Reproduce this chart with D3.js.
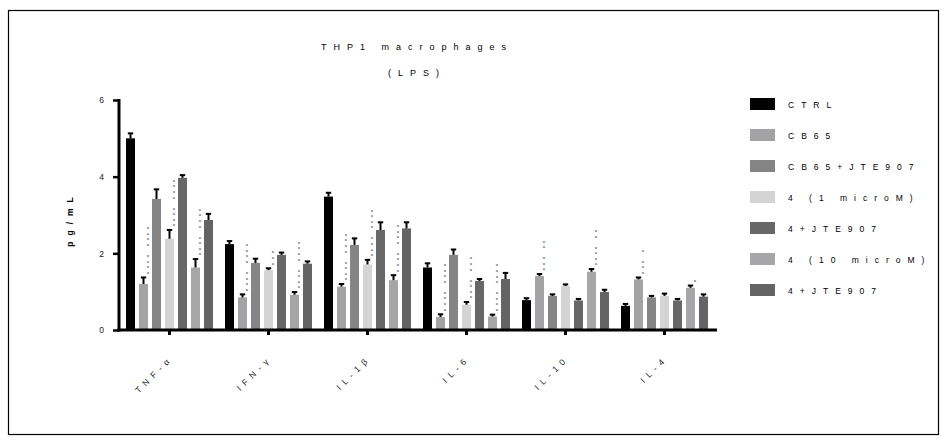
<!DOCTYPE html>
<html>
<head>
<meta charset="utf-8">
<script src="https://cdn.jsdelivr.net/npm/d3@7"></script>
<style>
  body { margin: 0; background: #fff; }
  text { font-family: "Liberation Sans", Arial, sans-serif; }
</style>
</head>
<body>
<div id="chart-area"></div>
<script>
// cytokines on the x axis
var groups = ["TNF-α", "IFN-γ", "IL-1β", "IL-6", "IL-10", "IL-4"];

// treatments (legend order)
var series = ["CTRL", "CB65", "CB65+JTE907", "4 (1 microM)", "4+JTE907", "4 (10 microM)", "4+JTE907"];
var colors = ["#000000", "#a3a3a5", "#858585", "#d4d4d4", "#676767", "#a6a6a9", "#646464"];

// means, one array per treatment (pg/mL)
var ctrl      = [5.00, 2.24, 3.48, 1.63, 0.78, 0.63];
var cb65      = [1.20, 0.85, 1.13, 0.34, 1.41, 1.32];
var cb65Jte   = [3.42, 1.75, 2.22, 1.96, 0.89, 0.85];
var c4low     = [2.38, 1.56, 1.71, 0.66, 1.15, 0.89];
var c4lowJte  = [3.97, 1.96, 2.61, 1.28, 0.77, 0.77];
var c4high    = [1.63, 0.92, 1.30, 0.35, 1.52, 1.10];
var c4highJte = [2.87, 1.73, 2.65, 1.33, 0.99, 0.87];

// SEM
var ctrlErr      = [0.13, 0.08, 0.10, 0.11, 0.05, 0.05];
var cb65Err      = [0.17, 0.08, 0.07, 0.07, 0.05, 0.05];
var cb65JteErr   = [0.25, 0.11, 0.17, 0.14, 0.04, 0.04];
var c4lowErr     = [0.23, 0.05, 0.12, 0.07, 0.04, 0.06];
var c4lowJteErr  = [0.07, 0.06, 0.20, 0.05, 0.04, 0.04];
var c4highErr    = [0.22, 0.07, 0.13, 0.05, 0.07, 0.06];
var c4highJteErr = [0.16, 0.06, 0.16, 0.16, 0.06, 0.06];

// significance stars: [first block, second block] per cytokine
var cb65Stars   = [[4,4],[4,4],[4,4],[4,4],[3,2],[3,1]];
var c4lowStars  = [[4,4],[3,0],[4,4],[4,3],[0,0],[0,0]];
var c4highStars = [[4,4],[4,4],[4,4],[4,4],[4,2],[1,0]];

var yTicks = [0, 2, 4, 6];

var values = [ctrl, cb65, cb65Jte, c4low, c4lowJte, c4high, c4highJte];
var errors = [ctrlErr, cb65Err, cb65JteErr, c4lowErr, c4lowJteErr, c4highErr, c4highJteErr];
var stars  = [null, cb65Stars, null, c4lowStars, null, c4highStars, null];

var svg = d3.select("#chart-area")
	.append("svg")
		.attr("width", 947)
		.attr("height", 443);

// frame
svg.append("rect")
	.attr("x", 8.5).attr("y", 10.5)
	.attr("width", 930).attr("height", 424)
	.attr("fill", "none")
	.attr("stroke", "#000")
	.attr("stroke-width", 1.2);

var x0 = d3.scaleBand()
	.domain(groups)
	.range([120, 714]);

var x1 = d3.scaleBand()
	.domain(d3.range(series.length))
	.range([-45.5, 45.5])
	.paddingInner(0.31)
	.paddingOuter(0.155);

var y = d3.scaleLinear()
	.domain([0, 6])
	.range([330, 100]);

// bars
var rows = [];
values.forEach(function(vals, s){
	vals.forEach(function(v, g){
		rows.push({s: s, g: g, v: v, e: errors[s][g]});
	});
});

var bx = function(d){ return x0(groups[d.g]) + x0.bandwidth()/2 + x1(d.s); };

svg.append("g").selectAll("rect")
	.data(rows)
	.enter().append("rect")
		.attr("x", bx)
		.attr("y", function(d){ return y(d.v); })
		.attr("width", x1.bandwidth())
		.attr("height", function(d){ return y(0) - y(d.v); })
		.attr("fill", function(d){ return colors[d.s]; });

// error bars (upper only)
var eb = svg.append("g").attr("stroke", "#000").attr("stroke-width", 2);
eb.selectAll("line.stem")
	.data(rows)
	.enter().append("line")
		.attr("class", "stem")
		.attr("x1", function(d){ return bx(d) + x1.bandwidth()/2; })
		.attr("x2", function(d){ return bx(d) + x1.bandwidth()/2; })
		.attr("y1", function(d){ return y(d.v); })
		.attr("y2", function(d){ return y(d.v + d.e); });
eb.selectAll("line.cap")
	.data(rows)
	.enter().append("line")
		.attr("class", "cap")
		.attr("x1", function(d){ return bx(d) + x1.bandwidth()/2 - 2.7; })
		.attr("x2", function(d){ return bx(d) + x1.bandwidth()/2 + 2.7; })
		.attr("y1", function(d){ return y(d.v + d.e); })
		.attr("y2", function(d){ return y(d.v + d.e); });

// stars
var starPts = [];
rows.forEach(function(d){
	if(!stars[d.s]) return;
	var n = stars[d.s][d.g];
	var base = y(d.v + d.e) - 5;
	for(var i = 0; i < n[0]; i++)
		starPts.push({x: bx(d) + x1.bandwidth(), y: base - i*5.6});
	var base2 = base - (n[0] - 1)*5.6 - 11;
	for(var j = 0; j < n[1]; j++)
		starPts.push({x: bx(d) + x1.bandwidth(), y: base2 - j*5.6});
});
svg.append("g").selectAll("text")
	.data(starPts)
	.enter().append("text")
		.attr("x", function(d){ return d.x; })
		.attr("y", function(d){ return d.y + 3.4; })
		.attr("text-anchor", "middle")
		.attr("font-size", "6px")
		.attr("font-weight", "bold")
		.attr("fill", "#6e6e6e")
		.text("*");

// y axis
var yAxis = svg.append("g")
	.attr("transform", "translate(119,0)")
	.call(d3.axisLeft(y).tickValues(yTicks).tickFormat(d3.format("d")).tickSize(6).tickPadding(9).tickSizeOuter(0));
yAxis.select(".domain").attr("stroke-width", 3).attr("d", "M0," + (y(6) - 1) + "V" + (y(0) + 1.5));
yAxis.selectAll(".tick line").attr("stroke-width", 2.5);
yAxis.selectAll(".tick text").attr("font-size", "8.5px").attr("fill", "#222");

// x axis
var xAxis = svg.append("g")
	.attr("transform", "translate(0,330)")
	.call(d3.axisBottom(x0).tickSize(5).tickSizeOuter(0));
xAxis.select(".domain").attr("stroke-width", 3).attr("d", "M117.5,0H717");
xAxis.selectAll(".tick line").attr("stroke-width", 3);
xAxis.selectAll(".tick text")
	.attr("font-size", "8.5px")
	.attr("fill", "#222")
	.attr("letter-spacing", "5px")
	.attr("text-anchor", "end")
	.attr("dy", null)
	.attr("y", 0)
	.attr("transform", "translate(4,29) rotate(-45)");

// y label
svg.append("text")
	.attr("transform", "translate(73,219) rotate(-90)")
	.attr("text-anchor", "middle")
	.attr("font-size", "8.5px")
	.attr("font-weight", "bold")
	.attr("letter-spacing", "6px")
	.text("pg/mL");

// title
svg.append("text")
	.attr("x", 417).attr("y", 50)
	.attr("text-anchor", "middle")
	.attr("font-size", "9px")
	.attr("letter-spacing", "7px")
	.text("THP1 macrophages");
svg.append("text")
	.attr("x", 417).attr("y", 76)
	.attr("text-anchor", "middle")
	.attr("font-size", "9px")
	.attr("letter-spacing", "7px")
	.text("(LPS)");

// legend
var legend = svg.append("g").selectAll("g")
	.data(series)
	.enter().append("g")
		.attr("transform", function(d, i){ return "translate(750," + (98 + i*31) + ")"; });
legend.append("rect")
	.attr("width", 25)
	.attr("height", 12)
	.attr("fill", function(d, i){ return colors[i]; });
legend.append("text")
	.attr("x", 38)
	.attr("y", 9.5)
	.attr("font-size", "8.5px")
	.attr("letter-spacing", "7px")
	.text(function(d){ return d; });
</script>
</body>
</html>
